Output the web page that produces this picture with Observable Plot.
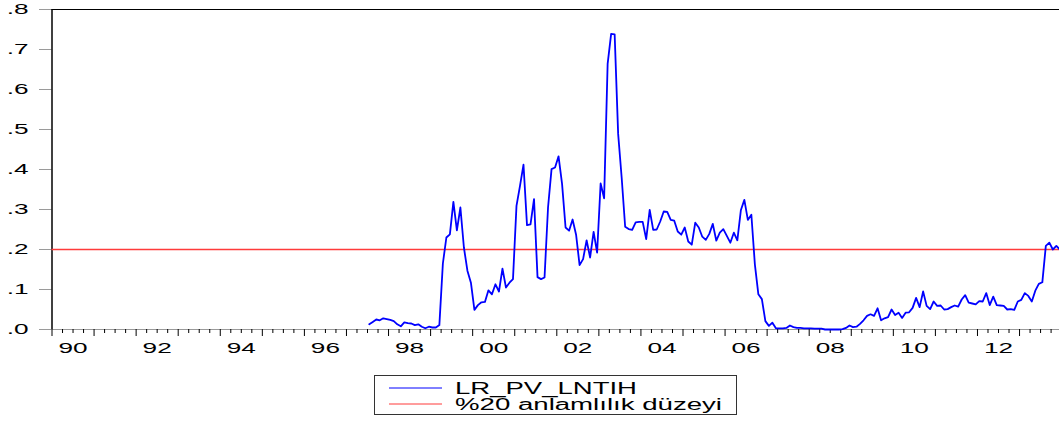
<!DOCTYPE html>
<html>
<head>
<meta charset="utf-8">
<script src="https://cdn.jsdelivr.net/npm/d3@7"></script>
<script src="https://cdn.jsdelivr.net/npm/@observablehq/plot@0.6"></script>
<style>
  html, body { margin: 0; padding: 0; background: #fff; }
  #chart { position: relative; width: 1059px; height: 421px; overflow: hidden;
           font-family: "Liberation Sans", Arial, sans-serif; }
  #chart > svg { display: block; }
  #legend { position: absolute; left: 374px; top: 375px; }
</style>
</head>
<body>
<div id="chart"></div>
<script>
// Long-run p-values of the LR_PV_LNTIH test, monthly, 1997M7 - 2013M12
const startYear = 1997;
const startMonth = 7;
const pv1997 = [0.013, 0.019, 0.025, 0.023, 0.028, 0.026];
const pv1998 = [0.024, 0.021, 0.013, 0.008, 0.018, 0.016, 0.015, 0.011, 0.013, 0.007, 0.003, 0.007];
const pv1999 = [0.005, 0.005, 0.011, 0.165, 0.230, 0.238, 0.319, 0.248, 0.305, 0.205, 0.147, 0.117];
const pv2000 = [0.049, 0.061, 0.068, 0.069, 0.098, 0.088, 0.113, 0.095, 0.152, 0.105, 0.117, 0.126];
const pv2001 = [0.309, 0.359, 0.412, 0.261, 0.263, 0.326, 0.131, 0.126, 0.130, 0.305, 0.401, 0.405];
const pv2002 = [0.433, 0.364, 0.255, 0.247, 0.275, 0.237, 0.161, 0.176, 0.223, 0.180, 0.244, 0.192];
const pv2003 = [0.365, 0.328, 0.664, 0.739, 0.738, 0.489, 0.380, 0.257, 0.251, 0.249, 0.268, 0.269];
const pv2004 = [0.269, 0.226, 0.299, 0.249, 0.250, 0.270, 0.295, 0.294, 0.274, 0.272, 0.245, 0.237];
const pv2005 = [0.255, 0.220, 0.212, 0.267, 0.255, 0.232, 0.224, 0.239, 0.264, 0.222, 0.242, 0.251];
const pv2006 = [0.234, 0.217, 0.242, 0.223, 0.298, 0.324, 0.274, 0.287, 0.163, 0.088, 0.076, 0.021];
const pv2007 = [0.009, 0.017, 0.003, 0.003, 0.003, 0.004, 0.010, 0.006, 0.004, 0.004, 0.003, 0.003];
const pv2008 = [0.003, 0.002, 0.002, 0.002, 0.000, 0.000, 0.000, 0.000, 0.000, 0.001, 0.004, 0.010];
const pv2009 = [0.006, 0.007, 0.014, 0.023, 0.034, 0.038, 0.034, 0.053, 0.023, 0.028, 0.031, 0.050];
const pv2010 = [0.036, 0.042, 0.029, 0.042, 0.043, 0.054, 0.079, 0.056, 0.095, 0.059, 0.051, 0.070];
const pv2011 = [0.059, 0.060, 0.050, 0.051, 0.056, 0.060, 0.057, 0.075, 0.086, 0.067, 0.065, 0.063];
const pv2012 = [0.071, 0.070, 0.091, 0.061, 0.082, 0.061, 0.060, 0.059, 0.050, 0.051, 0.049, 0.070];
const pv2013 = [0.074, 0.091, 0.084, 0.070, 0.097, 0.114, 0.118, 0.209, 0.217, 0.200, 0.209, 0.200];

const threshold = 0.2;
const seriesName = "LR_PV_LNTIH";
const thresholdName = "%20 anlamlılık düzeyi";
const seriesColor = "#0000ff";
const thresholdColor = "#ff3b3b";

const yTicks = [0, 0.1, 0.2, 0.3, 0.4, 0.5, 0.6, 0.7, 0.8];
const yTickLabels = [".0", ".1", ".2", ".3", ".4", ".5", ".6", ".7", ".8"];
const xLabelYears = [1990, 1992, 1994, 1996, 1998, 2000, 2002, 2004, 2006, 2008, 2010, 2012];
const xLabelText = ["90", "92", "94", "96", "98", "00", "02", "04", "06", "08", "10", "12"];

// Monthly observations sit in the middle of their month on a decimal-year axis
const values = [].concat(pv1997, pv1998, pv1999, pv2000, pv2001, pv2002, pv2003, pv2004,
                         pv2005, pv2006, pv2007, pv2008, pv2009, pv2010, pv2011, pv2012, pv2013);
const series = values.map((v, i) => ({t: startYear + (startMonth - 1 + i + 0.5) / 12, v}));

const yearTicks = d3.range(1990, 2014);
const quarterTicks = d3.range(1990, 2014, 0.25).filter(d => d % 1 !== 0);

const chart = Plot.plot({
  width: 1059,
  height: 362,
  marginLeft: 51.5,
  marginRight: 0,
  marginTop: 9,
  marginBottom: 33,
  x: {domain: [1990, 2013.95]},
  y: {domain: [0, 0.8]},
  style: {fontFamily: "'Liberation Sans', Arial, sans-serif", fontSize: "14px", background: "white"},
  marks: [
    Plot.ruleY([0], {stroke: "#9a9a9a"}),
    Plot.axisY({ticks: yTicks, tickSize: 12.5, tickPadding: 11, stroke: "#9a9a9a", fill: "black",
                tickFormat: d => yTickLabels[yTicks.indexOf(d)], label: null}),
    Plot.axisX({ticks: quarterTicks, tickSize: 4, tickFormat: () => "", label: null, stroke: "black"}),
    Plot.axisX({ticks: yearTicks, tickSize: 7, tickFormat: () => "", label: null, stroke: "black"}),
    Plot.axisX({ticks: xLabelYears.map(y => y + 0.5), tickSize: 0, tickPadding: 14, fill: "black",
                tickFormat: d => xLabelText[xLabelYears.indexOf(d - 0.5)], label: null}),
    Plot.ruleY([0.8], {stroke: "black"}),
    Plot.ruleX([1990], {stroke: "black", strokeWidth: 1.5}),
    Plot.ruleY([threshold], {stroke: thresholdColor, strokeWidth: 1.3}),
    Plot.lineY(series, {x: "t", y: "v", stroke: seriesColor, strokeWidth: 1.8})
  ]
});

const host = document.getElementById("chart");
host.appendChild(chart);

// Wide, stretched axis lettering
d3.select(chart).selectAll("text").each(function () {
  const w = this.getComputedTextLength();
  if (w > 0) {
    this.setAttribute("textLength", w * 1.87);
    this.setAttribute("lengthAdjust", "spacingAndGlyphs");
  }
});

// Legend box below the plot
const legend = d3.select(host).append("svg").attr("id", "legend")
  .attr("width", 364).attr("height", 41)
  .style("font-family", "'Liberation Sans', Arial, sans-serif");
legend.append("rect").attr("x", 0.5).attr("y", 0.5).attr("width", 362).attr("height", 39)
  .attr("fill", "#fff").attr("stroke", "#333");
[[seriesName, seriesColor, 13, 182], [thresholdName, thresholdColor, 29, 267]].forEach(([name, color, cy, len]) => {
  legend.append("line").attr("x1", 15).attr("x2", 68).attr("y1", cy).attr("y2", cy)
    .attr("stroke", color).attr("stroke-width", 1);
  legend.append("text").attr("x", 81).attr("y", cy).attr("dy", "0.36em")
    .attr("font-size", 16).attr("fill", "#000")
    .attr("textLength", len).attr("lengthAdjust", "spacingAndGlyphs")
    .text(name);
});
</script>
</body>
</html>
